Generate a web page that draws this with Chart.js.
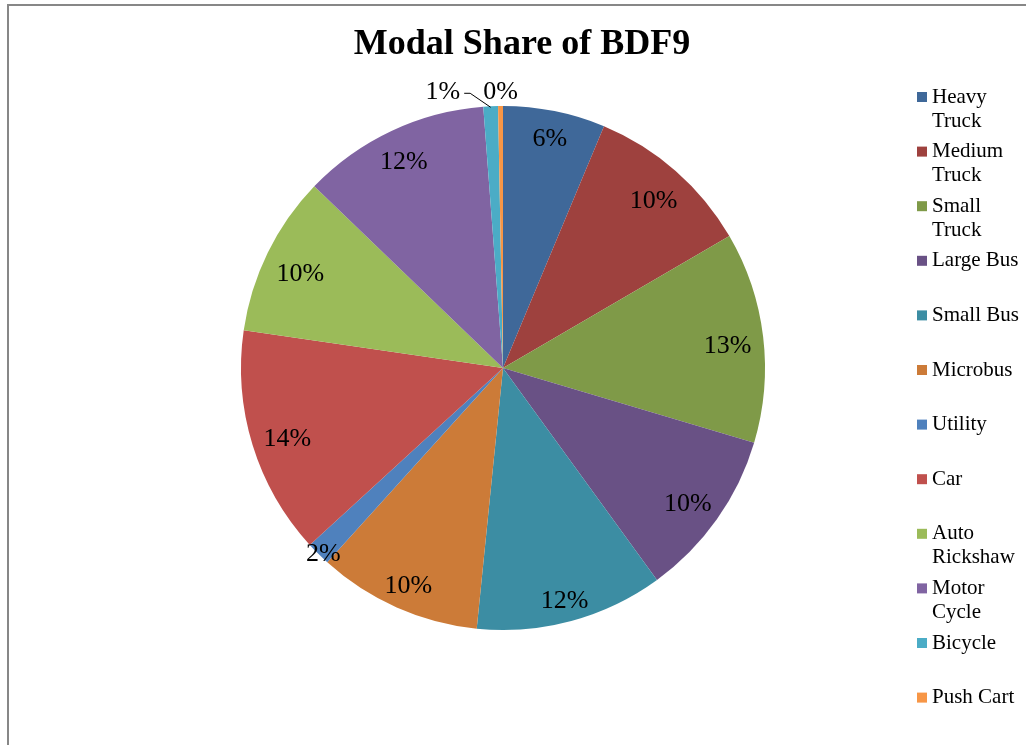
<!DOCTYPE html>
<html>
<head>
<meta charset="utf-8">
<title>Modal Share of BDF9</title>
<script src="https://cdn.jsdelivr.net/npm/chart.js@4.4.1/dist/chart.umd.min.js"></script>
<style>
    html, body { margin: 0; padding: 0; background: #ffffff; }
    canvas { display: block; }
</style>
</head>
<body>
<canvas id="modal-share-chart" width="1026" height="745"></canvas>
<script>
// Vehicle categories and their share (%) of traffic
const vehicleTypes = [
    'Heavy Truck', 'Medium Truck', 'Small Truck', 'Large Bus', 'Small Bus', 'Microbus',
    'Utility', 'Car', 'Auto Rickshaw', 'Motor Cycle', 'Bicycle', 'Push Cart'
];
const shareValues = [6.3, 10.3, 13.0, 10.4, 11.6, 10.1, 1.5, 14.1, 9.9, 11.6, 0.9, 0.3];

// Excel-style slice colours
const sliceColors = [
    '#3f6899', '#9e413e', '#7f9a48', '#695185', '#3c8da3', '#cc7b38',
    '#4f81bd', '#c0504d', '#9bbb59', '#8064a2', '#4bacc6', '#f79646'
];

const chartTitle = 'Modal Share of BDF9';
const serif = '"Liberation Serif", "Times New Roman", serif';

// Frame + title
const framePlugin = {
    id: 'frame',
    beforeDraw(chart) {
        const ctx = chart.ctx;
        ctx.save();
        ctx.fillStyle = '#ffffff';
        ctx.fillRect(0, 0, chart.width, chart.height);
        ctx.strokeStyle = '#878787';
        ctx.lineWidth = 2;
        ctx.beginPath();
        ctx.moveTo(8, chart.height + 2);
        ctx.lineTo(8, 5);
        ctx.lineTo(chart.width + 2, 5);
        ctx.stroke();
        ctx.restore();
    },
    afterDraw(chart) {
        const ctx = chart.ctx;
        ctx.save();
        ctx.fillStyle = '#000000';
        ctx.font = 'bold 36px ' + serif;
        ctx.textAlign = 'center';
        ctx.textBaseline = 'alphabetic';
        ctx.fillText(chartTitle, 522, 54);
        ctx.restore();
    }
};

// Percentage labels, best-fit inside the slice, tiny ones outside
const sliceLabelPlugin = {
    id: 'sliceLabels',
    afterDatasetsDraw(chart) {
        const ctx = chart.ctx;
        const meta = chart.getDatasetMeta(0);
        const values = chart.data.datasets[0].data;
        const total = values.reduce((a, b) => a + b, 0);
        const dy = 5; // digits sit above the em-box middle
        ctx.save();
        ctx.font = '26px ' + serif;
        ctx.fillStyle = '#000000';
        ctx.textAlign = 'center';
        ctx.textBaseline = 'middle';

        let placedLeft = null;
        for (let i = meta.data.length - 1; i >= 0; i--) {
            const arc = meta.data[i];
            const pct = values[i] / total * 100;
            const text = Math.round(pct) + '%';
            const mid = (arc.startAngle + arc.endAngle) / 2;
            const R = arc.outerRadius;
            const cos = Math.cos(mid), sin = Math.sin(mid);
            const halfW = ctx.measureText(text).width / 2;
            const halfH = 9;

            if (pct < 1.2) {
                // outside, stacked leftwards from the top
                const ex = arc.x + R * cos, ey = arc.y + R * sin;
                let cx = ex, cy = ey - 17;
                let shifted = false;
                if (placedLeft !== null && cx + halfW > placedLeft - 4) {
                    cx = placedLeft - 23 - halfW;
                    shifted = true;
                }
                ctx.fillText(text, cx, cy + dy - 2);
                placedLeft = cx - halfW;
                if (shifted) {
                    ctx.strokeStyle = '#000000';
                    ctx.lineWidth = 1;
                    ctx.beginPath();
                    ctx.moveTo(cx + halfW + 4, cy + 4);
                    ctx.lineTo(cx + halfW + 10, cy + 4);
                    ctx.lineTo(ex, ey + 1);
                    ctx.stroke();
                }
                continue;
            }

            let r;
            if (pct < 2.5) {
                r = R - 7;
            } else {
                const extent = halfW * Math.abs(cos) + halfH * Math.abs(sin);
                r = R - 11 - extent;
            }
            ctx.fillText(text, arc.x + r * cos, arc.y + r * sin + dy);
        }
        ctx.restore();
    }
};

// Right-hand legend with wrapped labels
const sideLegendPlugin = {
    id: 'sideLegend',
    afterDraw(chart) {
        const ctx = chart.ctx;
        const labels = chart.data.labels;
        const colors = chart.data.datasets[0].backgroundColor;
        const x0 = 917, textX = 932, top = 97, step = 54.6, lineH = 24, maxW = 90;
        ctx.save();
        ctx.font = '21px ' + serif;
        ctx.textAlign = 'left';
        ctx.textBaseline = 'middle';
        labels.forEach((label, i) => {
            const y = top + i * step;
            ctx.fillStyle = colors[i];
            ctx.fillRect(x0, y - 5, 10, 10);
            ctx.fillStyle = '#000000';
            const lines = [];
            let line = '';
            label.split(' ').forEach(word => {
                const test = line ? line + ' ' + word : word;
                if (line && ctx.measureText(test).width > maxW) {
                    lines.push(line);
                    line = word;
                } else {
                    line = test;
                }
            });
            lines.push(line);
            lines.forEach((l, j) => ctx.fillText(l, textX, y + j * lineH));
        });
        ctx.restore();
    }
};

const chart = new Chart(document.getElementById('modal-share-chart').getContext('2d'), {
    type: 'pie',
    data: {
        labels: vehicleTypes,
        datasets: [{
            data: shareValues,
            backgroundColor: sliceColors,
            borderWidth: 0
        }]
    },
    options: {
        responsive: false,
        animation: false,
        layout: {
            padding: { left: 241, right: 261, top: 106, bottom: 115 }
        },
        plugins: {
            legend: { display: false },
            title: { display: false },
            tooltip: { enabled: false }
        }
    },
    plugins: [framePlugin, sliceLabelPlugin, sideLegendPlugin]
});
</script>
</body>
</html>
